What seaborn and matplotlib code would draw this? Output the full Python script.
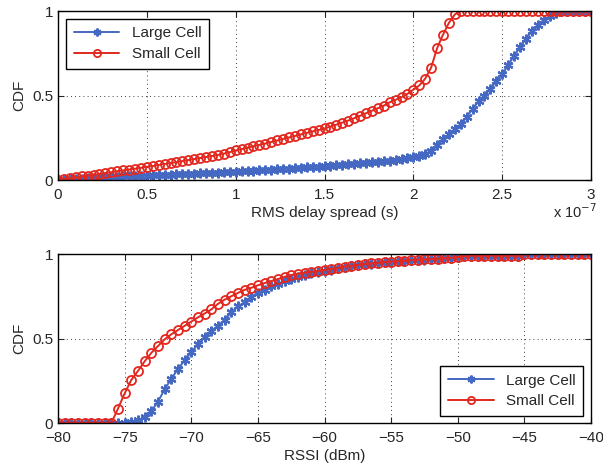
import numpy as np
import pandas as pd
import matplotlib
matplotlib.use("Agg")
import matplotlib.pyplot as plt
from matplotlib.ticker import FuncFormatter
import seaborn as sns

# RMS delay spread grid (s) and CDF values
delay_s = np.linspace(0, 3e-7, 91)
delay_large = [
    0.000, 0.002, 0.004, 0.006, 0.008, 0.010, 0.012, 0.014, 0.016, 0.018,
    0.020, 0.021, 0.022, 0.023, 0.025, 0.026, 0.028, 0.029, 0.030, 0.032,
    0.033, 0.035, 0.036, 0.038, 0.039, 0.040, 0.042, 0.043, 0.045, 0.047,
    0.050, 0.052, 0.053, 0.055, 0.057, 0.059, 0.061, 0.063, 0.065, 0.068,
    0.070, 0.072, 0.075, 0.077, 0.080, 0.083, 0.085, 0.087, 0.090, 0.093,
    0.095, 0.098, 0.101, 0.104, 0.108, 0.111, 0.114, 0.118, 0.123, 0.128,
    0.135, 0.145, 0.155, 0.172, 0.210, 0.240, 0.270, 0.300, 0.330, 0.375,
    0.420, 0.465, 0.500, 0.540, 0.585, 0.625, 0.680, 0.735, 0.785, 0.835,
    0.880, 0.915, 0.945, 0.970, 0.988, 0.998, 1.000, 1.000, 1.000, 1.000,
    1.000,
]
delay_small = [
    0.000, 0.005, 0.010, 0.015, 0.021, 0.026, 0.031, 0.036, 0.041, 0.046,
    0.052, 0.057, 0.062, 0.067, 0.072, 0.078, 0.083, 0.089, 0.095, 0.100,
    0.106, 0.112, 0.118, 0.124, 0.130, 0.136, 0.142, 0.148, 0.156, 0.165,
    0.175, 0.183, 0.191, 0.200, 0.208, 0.216, 0.225, 0.234, 0.243, 0.252,
    0.261, 0.270, 0.279, 0.288, 0.296, 0.305, 0.316, 0.328, 0.340, 0.352,
    0.366, 0.380, 0.395, 0.410, 0.425, 0.440, 0.460, 0.475, 0.490, 0.510,
    0.535, 0.560, 0.600, 0.665, 0.780, 0.860, 0.930, 0.980, 1.000, 1.000,
    1.000, 1.000, 1.000, 1.000, 1.000, 1.000, 1.000, 1.000, 1.000, 1.000,
    1.000, 1.000, 1.000, 1.000, 1.000, 1.000, 1.000, 1.000, 1.000, 1.000,
    1.000,
]

# RSSI grid (dBm) and CDF values
rssi_dbm = np.arange(-80, -39.5, 0.5)
rssi_large = [
    0.000, 0.000, 0.000, 0.000, 0.000, 0.000, 0.000, 0.000, 0.000, 0.000,
    0.000, 0.003, 0.015, 0.035, 0.070, 0.125, 0.200, 0.260, 0.320, 0.370,
    0.420, 0.465, 0.510, 0.545, 0.575, 0.610, 0.655, 0.690, 0.715, 0.748,
    0.770, 0.790, 0.808, 0.825, 0.840, 0.852, 0.864, 0.876, 0.886, 0.893,
    0.900, 0.908, 0.915, 0.922, 0.928, 0.934, 0.939, 0.943, 0.947, 0.951,
    0.954, 0.957, 0.960, 0.962, 0.965, 0.967, 0.970, 0.972, 0.975, 0.978,
    0.982, 0.986, 0.990, 0.990, 0.990, 0.990, 0.990, 0.990, 0.990, 0.990,
    0.998, 1.000, 1.000, 1.000, 1.000, 1.000, 1.000, 1.000, 1.000, 1.000,
    1.000,
]
rssi_small = [
    0.000, 0.000, 0.000, 0.000, 0.000, 0.000, 0.000, 0.000, 0.000, 0.085,
    0.175, 0.255, 0.308, 0.365, 0.415, 0.455, 0.495, 0.525, 0.550, 0.575,
    0.600, 0.625, 0.648, 0.672, 0.705, 0.730, 0.750, 0.770, 0.788, 0.800,
    0.815, 0.828, 0.840, 0.852, 0.865, 0.876, 0.884, 0.890, 0.895, 0.900,
    0.905, 0.912, 0.918, 0.925, 0.930, 0.936, 0.940, 0.944, 0.948, 0.952,
    0.955, 0.958, 0.960, 0.963, 0.966, 0.968, 0.970, 0.972, 0.975, 0.978,
    0.982, 0.986, 0.990, 0.990, 0.990, 0.990, 0.990, 0.990, 0.990, 0.990,
    0.998, 1.000, 1.000, 1.000, 1.000, 1.000, 1.000, 1.000, 1.000, 1.000,
    1.000,
]

series_names = ["Large Cell", "Small Cell"]
blue = "#4568c2"
red = "#e2281f"

sns.set_theme(style="white")
plt.rcParams["font.family"] = ["Liberation Sans", "DejaVu Sans"]
plt.rcParams["axes.unicode_minus"] = True

fig = plt.figure(figsize=(6.03, 4.72), dpi=100)
ax1 = fig.add_axes([0.0962, 0.6186, 0.884, 0.358])
ax2 = fig.add_axes([0.0962, 0.1038, 0.884, 0.358])

star = (6, 2, 0)

def draw(ax, x, large, small):
    sns.lineplot(x=x, y=large, ax=ax, color=blue, lw=1.4, marker=star,
                 markersize=7, markeredgewidth=1.6, markeredgecolor=blue,
                 label=series_names[0])
    sns.lineplot(x=x, y=small, ax=ax, color=red, lw=1.4, marker="o",
                 markersize=6.5, markerfacecolor="none", markeredgewidth=1.3,
                 markeredgecolor=red, label=series_names[1])

draw(ax1, delay_s, delay_large, delay_small)
draw(ax2, rssi_dbm, rssi_large, rssi_small)

for ax in (ax1, ax2):
    ax.set_ylim(0, 1)
    ax.set_yticks([0, 0.5, 1])
    ax.set_yticklabels(["0", "0.5", "1"])
    ax.set_ylabel("CDF", fontsize=11, labelpad=4)
    ax.grid(True, color="black", linestyle=(0, (1, 4)), linewidth=0.6)
    ax.tick_params(direction="in", length=4, width=0.8, labelsize=11,
                   top=True, right=True, bottom=True, left=True)
    ax.tick_params(axis="x", pad=5.5)
    ax.tick_params(axis="y", pad=3.5)
    for sp in ax.spines.values():
        sp.set_color("black")
        sp.set_linewidth(1.0)

ax1.set_xlim(0, 3e-7)
ax1.set_xticks(np.arange(0, 3.01e-7, 0.5e-7))
ax1.xaxis.set_major_formatter(FuncFormatter(lambda v, p: f"{v / 1e-7:g}"))
ax1.set_xlabel("RMS delay spread (s)", fontsize=11, labelpad=3)
fig.text(0.99, 0.538, r"x 10$^{-7}$", ha="right", va="baseline", fontsize=10.5)

ax2.set_xlim(-80, -40)
ax2.set_xticks(np.arange(-80, -39, 5))
ax2.set_xlabel("RSSI (dBm)", fontsize=11, labelpad=3)

leg_kw = dict(fontsize=11, frameon=True, fancybox=False, edgecolor="black",
              framealpha=1, handlelength=3.0, borderpad=0.5, labelspacing=0.45,
              borderaxespad=0, markerscale=0.8)
l1 = ax1.legend(loc="upper left", bbox_to_anchor=(0.015, 0.955), **leg_kw)
l2 = ax2.legend(loc="lower right", bbox_to_anchor=(0.985, 0.041), **leg_kw)
for lg in (l1, l2):
    lg.get_frame().set_linewidth(1.0)

fig.savefig("out.png", dpi=100)
